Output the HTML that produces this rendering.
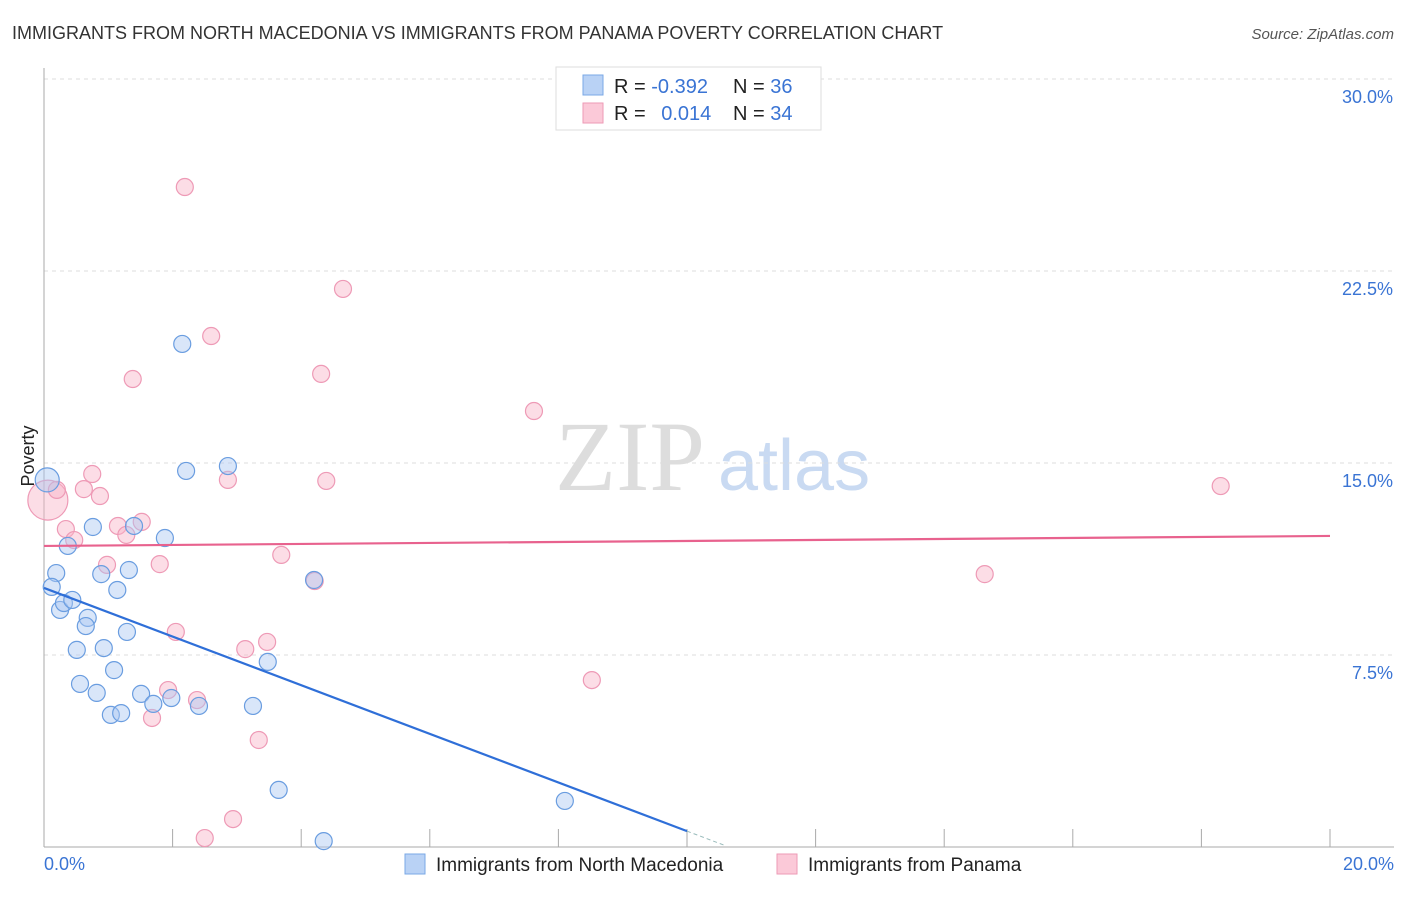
<!DOCTYPE html>
<html><head><meta charset="utf-8"><style>
body{margin:0;background:#fff;font-family:"Liberation Sans",sans-serif}
#c{position:relative;width:1406px;height:892px}
</style></head><body><div id="c">
<svg id="s" width="1406" height="892" xmlns="http://www.w3.org/2000/svg">
<text x="12" y="39" font-size="18" fill="#333">IMMIGRANTS FROM NORTH MACEDONIA VS IMMIGRANTS FROM PANAMA POVERTY CORRELATION CHART</text>
<text x="1394" y="39" font-size="15" fill="#555" font-style="italic" text-anchor="end">Source: ZipAtlas.com</text>
<text x="34" y="456" font-size="18" fill="#222" text-anchor="middle" transform="rotate(-90 34 456)">Poverty</text>
<text x="555" y="490" font-size="100" fill="#ddd" font-family="Liberation Serif">ZIP</text>
<text x="718" y="490" font-size="72" fill="#c9daf2">atlas</text>
<g id="grid"></g><g id="axes"></g><g id="pts"></g><g id="trend"></g>
<g>
<rect x="556" y="67" width="265" height="63" fill="#fff" stroke="#ddd"/>
<rect x="583" y="75" width="20" height="20" fill="#b9d2f5" stroke="#7aa8e6"/>
<rect x="583" y="103" width="20" height="20" fill="#fbc9d8" stroke="#ee9ab6"/>
<text x="614" y="93" font-size="20" fill="#222">R = <tspan fill="#3a74d4">-0.392</tspan></text>
<text x="733" y="93" font-size="20" fill="#222">N = <tspan fill="#3a74d4">36</tspan></text>
<text x="614" y="120" font-size="20" fill="#222">R = <tspan fill="#3a74d4" dx="10">0.014</tspan></text>
<text x="733" y="120" font-size="20" fill="#222">N = <tspan fill="#3a74d4">34</tspan></text>
</g>
<g>
<rect x="405" y="854" width="20" height="20" fill="#b9d2f5" stroke="#7aa8e6"/>
<text x="436" y="871" font-size="19" fill="#222">Immigrants from North Macedonia</text>
<rect x="777" y="854" width="20" height="20" fill="#fbc9d8" stroke="#ee9ab6"/>
<text x="808" y="871" font-size="19" fill="#222">Immigrants from Panama</text>
</g>
</svg></div>
<script>
const blueX=[0.05,0.19,0.12,0.37,0.25,0.31,0.44,0.68,0.65,0.51,0.56,0.82,0.89,0.76,0.93,1.09,1.14,1.32,1.29,1.51,1.04,1.20,1.70,1.98,1.88,1.40,2.15,2.21,2.86,2.41,3.25,3.48,4.20,3.65,4.35,8.10];
const blueY=[14.34,10.70,10.16,11.76,9.26,9.53,9.65,8.95,8.63,7.70,6.37,6.02,10.66,12.50,7.77,6.91,10.04,10.82,8.40,5.98,5.16,5.23,5.59,5.82,12.07,12.54,19.65,14.69,14.88,5.51,5.51,7.23,10.43,2.23,0.23,1.80];
const pinkX=[0.06,0.20,0.62,0.75,0.87,0.34,0.47,0.98,1.15,1.28,1.52,1.38,1.80,2.05,1.93,2.38,1.68,2.19,2.60,2.86,3.13,3.47,3.34,3.69,4.21,4.31,4.39,4.65,2.50,2.94,7.62,8.52,14.63,18.30];
const pinkY=[13.55,13.95,13.98,14.57,13.71,12.42,11.99,11.02,12.54,12.19,12.70,18.28,11.05,8.40,6.13,5.74,5.04,25.78,19.96,14.34,7.73,8.01,4.18,11.41,10.39,18.48,14.30,21.80,0.35,1.09,17.03,6.52,10.66,14.10];
const yTicks=[7.5,15,22.5,30];
const yTickLabels=["7.5%","15.0%","22.5%","30.0%"];
const blueTrend=[10.12,-0.95];
const pinkTrend=[11.76,0.0195];
const NS="http://www.w3.org/2000/svg";
const X=v=>44+v*64.3, Y=v=>847-v*25.6;
function mk(p,t,a){const e=document.createElementNS(NS,t);for(const k in a)e.setAttribute(k,a[k]);document.getElementById(p).appendChild(e);return e;}
yTicks.forEach((t,i)=>{
 let g=mk('grid','line',{x1:44,x2:1394,y1:Y(t),y2:Y(t),stroke:'#ddd','stroke-dasharray':'4,4'});
 
 
 let l=mk('grid','text',{x:1393,y:Y(t)+24,'font-size':18,fill:'#3a74d4','text-anchor':'end'});
 l.textContent=yTickLabels[i];
 
 
});
let ax=mk('axes','line',{x1:44,x2:44,y1:68,y2:847,stroke:'#aaa'});


let bx=mk('axes','line',{x1:44,x2:1394,y1:847,y2:847,stroke:'#aaa'});


for(let v=2;v<=20;v+=2){let t=mk('axes','line',{x1:X(v),x2:X(v),y1:829,y2:847,stroke:'#aaa'});
 
 }
[[0,"0.0%",'start',44],[20,"20.0%",'end',1394]].forEach(a=>{let t=mk('axes','text',{x:a[3],y:870,'font-size':18,fill:'#3a74d4','text-anchor':a[2]});t.textContent=a[1];
 
 });
pinkX.forEach((x,i)=>{let c=mk('pts','circle',{cx:X(x),cy:Y(pinkY[i]),r:i==0?20:8.5,fill:'rgba(248,180,200,0.45)',stroke:'#ee9ab6','stroke-width':1.2});
 
 });
blueX.forEach((x,i)=>{let c=mk('pts','circle',{cx:X(x),cy:Y(blueY[i]),r:i==0?12:8.5,fill:'rgba(170,200,242,0.45)',stroke:'#6a9de0','stroke-width':1.2});
 
 });
let bEnd=10.0;
let t1=mk('trend','line',{x1:X(0),y1:Y(blueTrend[0]),x2:X(bEnd),y2:Y(blueTrend[0]+blueTrend[1]*bEnd),stroke:'#2f6fd8','stroke-width':2.2});


let t1d=mk('trend','line',{x1:X(bEnd),y1:Y(blueTrend[0]+blueTrend[1]*bEnd),x2:X(10.6),y2:Y(blueTrend[0]+blueTrend[1]*10.6),stroke:'#9bb','stroke-width':1,'stroke-dasharray':'4,3'});


let t2=mk('trend','line',{x1:X(0),y1:Y(pinkTrend[0]),x2:X(20),y2:Y(pinkTrend[0]+pinkTrend[1]*20),stroke:'#e8628e','stroke-width':2.2});


</script></body></html>
